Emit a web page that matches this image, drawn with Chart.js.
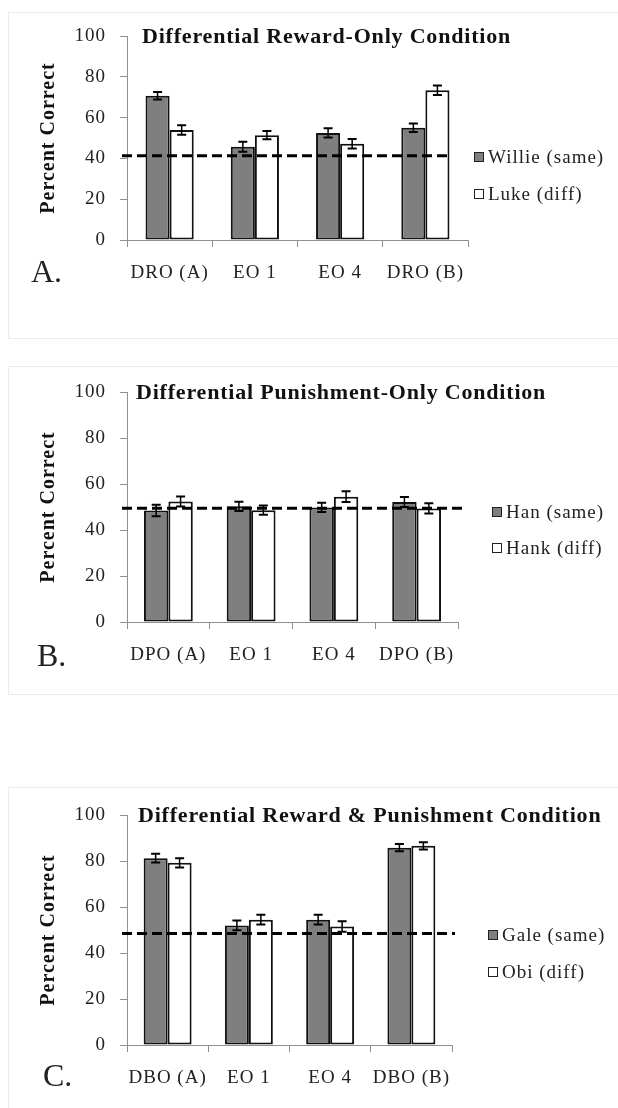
<!DOCTYPE html>
<html>
<head>
<meta charset="utf-8">
<title>Percent Correct by Condition</title>
<script src="https://cdn.jsdelivr.net/npm/chart.js@4/dist/chart.umd.min.js"></script>
<style>
  html, body { margin: 0; padding: 0; background: #fff; }
  body { width: 618px; height: 1108px; position: relative; overflow: hidden; }
  .frame { position: absolute; left: 8px; width: 700px; border: 1px solid #ebebeb; border-right: none; }
  canvas { position: absolute; left: 0; }
</style>
</head>
<body>
<div class="frame" style="top:12px;height:325px"></div>
<div class="frame" style="top:366px;height:327px"></div>
<div class="frame" style="top:787px;height:400px"></div>
<canvas id="panelA" width="618" height="345" style="top:0px"></canvas>
<canvas id="panelB" width="618" height="360" style="top:345px"></canvas>
<canvas id="panelC" width="618" height="403" style="top:705px"></canvas>
<script>
// ---- Panel A: Differential Reward-Only Condition ----
const categoriesA = ['DRO (A)', 'EO 1', 'EO 4', 'DRO (B)'];
const willieSame = [70.7, 45.7, 52.5, 55.0];
const willieErr  = [1.8, 2.5, 2.3, 2.1];
const lukeDiff   = [53.9, 51.4, 47.2, 73.4];
const lukeErr    = [2.3, 2.0, 2.3, 2.3];
const chanceA = 41.3;

// ---- Panel B: Differential Punishment-Only Condition ----
const categoriesB = ['DPO (A)', 'EO 1', 'EO 4', 'DPO (B)'];
const hanSame  = [48.5, 50.3, 49.8, 52.2];
const hanErr   = [2.5, 2.0, 2.0, 2.2];
const hankDiff = [52.4, 48.6, 54.5, 49.4];
const hankErr  = [2.2, 2.0, 2.3, 2.2];
const chanceB = 49.5;

// ---- Panel C: Differential Reward & Punishment Condition ----
const categoriesC = ['DBO (A)', 'EO 1', 'EO 4', 'DBO (B)'];
const galeSame = [81.2, 52.0, 54.5, 85.8];
const galeErr  = [1.9, 2.1, 2.1, 1.6];
const obiDiff  = [79.2, 54.5, 51.5, 86.6];
const obiErr   = [2.0, 2.1, 2.3, 1.6];
const chanceC = 48.5;

const yTicks = [0, 20, 40, 60, 80, 100];

const SERIF = "'Liberation Serif', 'DejaVu Serif', 'Times New Roman', serif";
const GRAY_FILL = '#7f7f7f';
const AXIS_GRAY = '#8f8f8f';

// Error bars, chance line, title, legend and panel letter
const panelDecor = {
  id: 'panelDecor',
  beforeDraw(chart) {
    chart.ctx.letterSpacing = '1px';
  },
  afterDatasetsDraw(chart, args, opts) {
    const ctx = chart.ctx;
    const y = chart.scales.y;
    const area = chart.chartArea;

    // dashed chance line
    ctx.save();
    const cy = y.getPixelForValue(opts.chance);
    ctx.strokeStyle = '#000';
    ctx.lineWidth = 3;
    ctx.setLineDash([10, 5]);
    ctx.beginPath();
    ctx.moveTo(area.left - 5, cy);
    ctx.lineTo(area.right + opts.chanceExtend, cy);
    ctx.stroke();
    ctx.restore();

    // error bars
    ctx.save();
    ctx.strokeStyle = '#000';
    chart.data.datasets.forEach((ds, i) => {
      const meta = chart.getDatasetMeta(i);
      meta.data.forEach((bar, j) => {
        const v = ds.data[j], e = ds.errors[j];
        const yHi = y.getPixelForValue(v + e);
        const yLo = y.getPixelForValue(v - e);
        ctx.lineWidth = 1.5;
        ctx.beginPath();
        ctx.moveTo(bar.x, yHi);
        ctx.lineTo(bar.x, yLo);
        ctx.stroke();
        ctx.lineWidth = 2;
        ctx.beginPath();
        ctx.moveTo(bar.x - 4.5, yHi); ctx.lineTo(bar.x + 4.5, yHi);
        ctx.moveTo(bar.x - 4.5, yLo); ctx.lineTo(bar.x + 4.5, yLo);
        ctx.stroke();
      });
    });
    ctx.restore();
  },
  afterDraw(chart, args, opts) {
    const ctx = chart.ctx;
    const y = chart.scales.y;
    ctx.save();
    ctx.letterSpacing = '0.8px';
    // title inside the plot, level with the top tick
    ctx.font = 'bold 22px ' + SERIF;
    ctx.fillStyle = '#111';
    ctx.textAlign = 'left';
    ctx.textBaseline = 'middle';
    ctx.fillText(opts.title, opts.titleX, y.getPixelForValue(100) + 1);

    // legend
    ctx.letterSpacing = '1px';
    ctx.font = '19px ' + SERIF;
    chart.data.datasets.forEach((ds, i) => {
      const ly = opts.legendY[i];
      ctx.fillStyle = ds.backgroundColor;
      ctx.fillRect(opts.legendX, ly - 5, 10, 10);
      ctx.strokeStyle = '#222';
      ctx.lineWidth = 1;
      ctx.strokeRect(opts.legendX + 0.5, ly - 4.5, 9, 9);
      ctx.fillStyle = '#222';
      ctx.fillText(ds.label, opts.legendX + 14, ly + 1);
    });

    // panel letter
    ctx.letterSpacing = '0px';
    ctx.font = '32px ' + SERIF;
    ctx.fillStyle = '#222';
    ctx.fillText(opts.letter, opts.letterX, opts.letterY);
    ctx.restore();
  }
};

function makePanel(id, cfg) {
  const canvas = document.getElementById(id);
  const H = canvas.height;
  return new Chart(canvas, {
    type: 'bar',
    data: {
      labels: cfg.labels,
      datasets: [
        { label: cfg.names[0], data: cfg.same, errors: cfg.sameErr,
          backgroundColor: GRAY_FILL, borderColor: '#111', borderWidth: 2, borderSkipped: false },
        { label: cfg.names[1], data: cfg.diff, errors: cfg.diffErr,
          backgroundColor: '#ffffff', borderColor: '#111', borderWidth: 2, borderSkipped: false }
      ]
    },
    options: {
      responsive: false,
      animation: false,
      devicePixelRatio: 1,
      datasets: { bar: { categoryPercentage: cfg.catPct, barPercentage: 1.0 } },
      layout: { padding: { left: 0, top: cfg.top, right: 618 - cfg.right, bottom: 0 } },
      scales: {
        x: {
          offset: true,
          grid: { offset: true, drawOnChartArea: false, drawTicks: true, tickLength: 7, color: AXIS_GRAY, lineWidth: 1 },
          border: { display: true, color: AXIS_GRAY, width: 1 },
          ticks: { font: { family: SERIF, size: 19 }, color: '#222', padding: 15, maxRotation: 0, autoSkip: false },
          afterFit: s => { s.height = H - cfg.bottom; }
        },
        y: {
          min: 0, max: 100,
          afterBuildTicks: s => { s.ticks = yTicks.map(v => ({ value: v })); },
          grid: { drawOnChartArea: false, drawTicks: true, tickLength: 7, color: AXIS_GRAY, lineWidth: 1 },
          border: { display: true, color: AXIS_GRAY, width: 1 },
          ticks: { font: { family: SERIF, size: 19 }, color: '#222', padding: 14 },
          title: { display: true, text: 'Percent Correct', color: '#111',
                   font: { family: SERIF, size: 20, weight: 'bold' }, padding: { top: 37, bottom: 0 } },
          afterFit: s => { s.width = 127; }
        }
      },
      plugins: {
        legend: { display: false },
        title: { display: false },
        tooltip: { enabled: false },
        panelDecor: {
          title: cfg.title, titleX: cfg.titleX,
          chance: cfg.chance, chanceExtend: cfg.chanceExtend,
          legendX: cfg.legendX, legendY: cfg.legendY,
          letter: cfg.letter, letterX: cfg.letterX, letterY: cfg.letterY
        }
      }
    },
    plugins: [panelDecor]
  });
}

makePanel('panelA', {
  labels: categoriesA, names: ['Willie (same)', 'Luke (diff)'],
  same: willieSame, sameErr: willieErr, diff: lukeDiff, diffErr: lukeErr,
  chance: chanceA, chanceExtend: -17,
  top: 36, bottom: 240, right: 468, catPct: 0.565,
  title: 'Differential Reward-Only Condition', titleX: 142,
  legendX: 474, legendY: [157, 194],
  letter: 'A.', letterX: 31, letterY: 274
});

makePanel('panelB', {
  labels: categoriesB, names: ['Han (same)', 'Hank (diff)'],
  same: hanSame, sameErr: hanErr, diff: hankDiff, diffErr: hankErr,
  chance: chanceB, chanceExtend: 8,
  top: 47, bottom: 277, right: 458, catPct: 0.59,
  title: 'Differential Punishment-Only Condition', titleX: 136,
  legendX: 492, legendY: [167, 203],
  letter: 'B.', letterX: 37, letterY: 313
});

makePanel('panelC', {
  labels: categoriesC, names: ['Gale (same)', 'Obi (diff)'],
  same: galeSame, sameErr: galeErr, diff: obiDiff, diffErr: obiErr,
  chance: chanceC, chanceExtend: 3,
  top: 110, bottom: 340, right: 452, catPct: 0.59,
  title: 'Differential Reward & Punishment Condition', titleX: 138,
  legendX: 488, legendY: [230, 267],
  letter: 'C.', letterX: 43, letterY: 373
});
</script>
</body>
</html>
